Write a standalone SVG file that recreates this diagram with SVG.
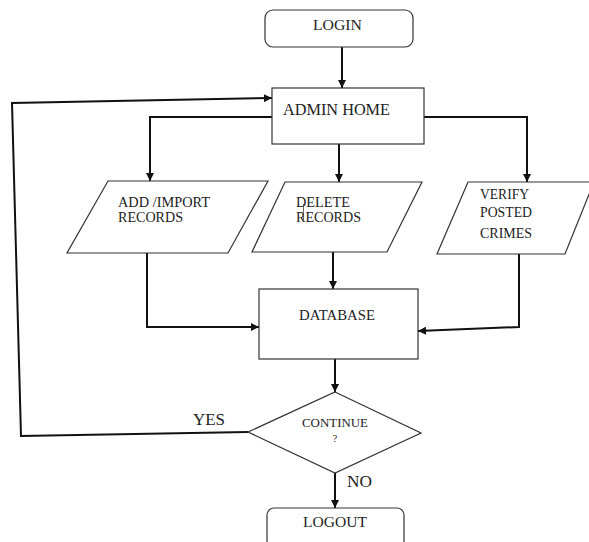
<svg xmlns="http://www.w3.org/2000/svg" width="589" height="542" viewBox="0 0 589 542">
<style>
.shape{fill:#fff;stroke:#333;stroke-width:1.2}
.conn{fill:none;stroke:#111;stroke-width:2}
text{font-family:"Liberation Serif","Times New Roman",serif;fill:#222}
.t14{font-size:14px}
.t15{font-size:15.5px}
</style>
<defs>
<marker id="ah" viewBox="0 0 10 10" refX="10" refY="5" markerWidth="9" markerHeight="8" markerUnits="userSpaceOnUse" orient="auto">
<path d="M0,0 L10,5 L0,10 z" fill="#111"/>
</marker>
</defs>
<rect width="589" height="542" fill="#fff"/>
<g id="connectors">
<path class="conn" d="M342,47 L342,88" marker-end="url(#ah)"/>
<path class="conn" d="M272,117 L150,117 L150,181" marker-end="url(#ah)"/>
<path class="conn" d="M339,144 L339,182" marker-end="url(#ah)"/>
<path class="conn" d="M424,117 L527,117 L527,182" marker-end="url(#ah)"/>
<path class="conn" d="M147,253 L147,327 L259,327" marker-end="url(#ah)"/>
<path class="conn" d="M333,252 L333,289" marker-end="url(#ah)"/>
<path class="conn" d="M519,254 L519,327 L418,331" marker-end="url(#ah)"/>
<path class="conn" d="M335,359 L335,392" marker-end="url(#ah)"/>
<path class="conn" d="M248,432 L21,436 L12,103 L272,98" marker-end="url(#ah)"/>
<path class="conn" d="M335,473 L335,508" marker-end="url(#ah)"/>
<text x="193" y="425" font-size="16.5" textLength="32" lengthAdjust="spacingAndGlyphs">YES</text>
<text x="347" y="487" font-size="17" textLength="25" lengthAdjust="spacingAndGlyphs">NO</text>
</g>
<g id="login">
<rect class="shape" x="265" y="10" width="148" height="37" rx="8"/>
<text class="t15" x="313" y="30" textLength="49" lengthAdjust="spacingAndGlyphs">LOGIN</text>
</g>
<g id="admin-home">
<rect class="shape" x="272" y="88" width="152" height="56"/>
<text x="283" y="115" font-size="16" textLength="107" lengthAdjust="spacingAndGlyphs">ADMIN HOME</text>
</g>
<g id="add-import">
<polygon class="shape" points="108,181 268,181 228,253 67,253"/>
<text class="t14" x="118" y="207" textLength="92" lengthAdjust="spacingAndGlyphs">ADD /IMPORT</text>
<text class="t14" x="118" y="222" textLength="65" lengthAdjust="spacingAndGlyphs">RECORDS</text>
</g>
<g id="delete-records">
<polygon class="shape" points="285,182 422,182 387,252 252,252"/>
<text class="t14" x="296" y="207" textLength="54" lengthAdjust="spacingAndGlyphs">DELETE</text>
<text class="t14" x="296" y="222" textLength="65" lengthAdjust="spacingAndGlyphs">RECORDS</text>
<line x1="303.5" y1="204" x2="303.5" y2="222" stroke="#444" stroke-width="0.8"/>
</g>
<g id="verify">
<polygon class="shape" points="468,182 594,182 565,254 437,254"/>
<text class="t14" x="480" y="199" textLength="49" lengthAdjust="spacingAndGlyphs">VERIFY</text>
<text class="t14" x="480" y="217" textLength="52" lengthAdjust="spacingAndGlyphs">POSTED</text>
<text class="t14" x="480" y="238" textLength="52" lengthAdjust="spacingAndGlyphs">CRIMES</text>
</g>
<g id="database">
<rect class="shape" x="259" y="289" width="159" height="70"/>
<text class="t14" x="299" y="320" textLength="76" lengthAdjust="spacingAndGlyphs">DATABASE</text>
</g>
<g id="continue">
<polygon class="shape" points="335,392 421,433 335,473 248,432"/>
<text x="302" y="427" font-size="12.5" textLength="66" lengthAdjust="spacingAndGlyphs">CONTINUE</text>
<text x="335" y="442" font-size="10" text-anchor="middle">?</text>
</g>
<g id="logout">
<rect class="shape" x="267" y="508" width="137" height="40" rx="7"/>
<text class="t15" x="303" y="527" textLength="64" lengthAdjust="spacingAndGlyphs">LOGOUT</text>
</g>
</svg>
